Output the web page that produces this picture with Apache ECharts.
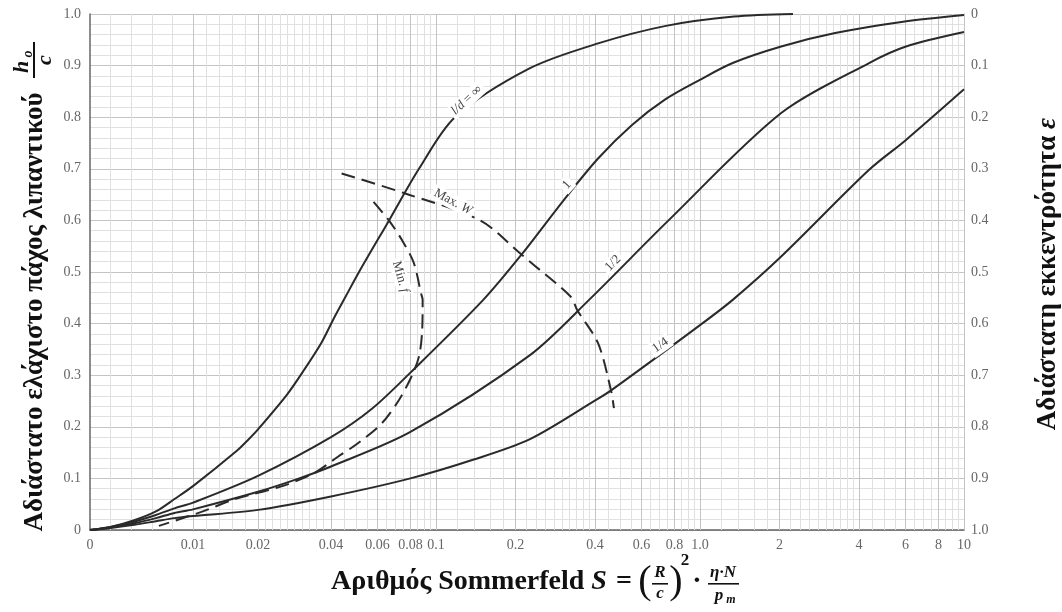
<!DOCTYPE html>
<html><head><meta charset="utf-8">
<script src="https://cdn.jsdelivr.net/npm/echarts@6/dist/echarts.min.js"></script>
<style>html,body{margin:0;padding:0;background:#fff}#c{width:1062px;height:612px}</style>
</head><body><div id="c"></div>
<script>
// ---------- axis ticks ----------
const xTickValues = [0, 0.01, 0.02, 0.04, 0.06, 0.08, 0.1, 0.2, 0.4, 0.6, 0.8, 1, 2, 4, 6, 8, 10];
const xTickLabels = ['0', '0.01', '0.02', '0.04', '0.06', '0.08', '0.1', '0.2', '0.4', '0.6', '0.8', '1.0', '2', '4', '6', '8', '10'];
const xMinorValues = [0.002, 0.004, 0.006, 0.008,
  0.012, 0.014, 0.016, 0.018,
  0.022, 0.024, 0.026, 0.028, 0.03, 0.032, 0.034, 0.036, 0.038,
  0.045, 0.05, 0.055, 0.065, 0.07, 0.075, 0.085, 0.09, 0.095,
  0.12, 0.14, 0.16, 0.18,
  0.22, 0.24, 0.26, 0.28, 0.3, 0.32, 0.34, 0.36, 0.38,
  0.45, 0.5, 0.55, 0.65, 0.7, 0.75, 0.85, 0.9, 0.95,
  1.2, 1.4, 1.6, 1.8,
  2.2, 2.4, 2.6, 2.8, 3, 3.2, 3.4, 3.6, 3.8,
  4.5, 5, 5.5, 6.5, 7, 7.5, 8.5, 9, 9.5];

// ---------- curves: Sommerfeld number S and h0/c ----------
const sInf = [0, 0.002, 0.0043, 0.0064, 0.0082, 0.01, 0.0167, 0.0185, 0.02, 0.0279, 0.0326, 0.0373, 0.041, 0.0452, 0.0511, 0.0664, 0.0862, 0.118, 0.227, 0.411, 0.743, 1.345, 2.25];
const hInf = [0, 0.006, 0.019, 0.036, 0.06, 0.085, 0.153, 0.175, 0.195, 0.262, 0.31, 0.362, 0.41, 0.45, 0.5, 0.6, 0.7, 0.8, 0.895, 0.943, 0.977, 0.995, 1.0];

const sOne = [0, 0.002, 0.0043, 0.0064, 0.0082, 0.01, 0.02, 0.04, 0.0572, 0.08, 0.151, 0.2118, 0.3053, 0.411, 0.5527, 0.7407, 0.995, 1.33, 2.03, 3.25, 5.88, 10];
const hOne = [0, 0.006, 0.016, 0.029, 0.042, 0.053, 0.105, 0.18, 0.235, 0.305, 0.446, 0.535, 0.64, 0.72, 0.785, 0.835, 0.872, 0.905, 0.937, 0.963, 0.985, 0.998];

const sHalf = [0, 0.002, 0.0043, 0.0064, 0.0082, 0.01, 0.02, 0.0313, 0.04, 0.08, 0.227, 0.38, 0.76, 2.03, 4.37, 6.03, 10];
const hHalf = [0, 0.005, 0.013, 0.023, 0.033, 0.04, 0.074, 0.1, 0.123, 0.19, 0.339, 0.446, 0.6, 0.808, 0.905, 0.937, 0.965];

const sQuarter = [0, 0.002, 0.0043, 0.0064, 0.0082, 0.01, 0.02, 0.04, 0.08, 0.138, 0.227, 0.404, 0.462, 1.0, 1.33, 2.03, 4.37, 6.03, 10];
const hQuarter = [0, 0.004, 0.01, 0.017, 0.023, 0.027, 0.039, 0.065, 0.1, 0.136, 0.176, 0.252, 0.271, 0.397, 0.446, 0.53, 0.698, 0.756, 0.854];

const sMinF = [0.058, 0.0663, 0.0743, 0.0825, 0.0877, 0.0890, 0.0885, 0.0862, 0.0807, 0.0724, 0.0624, 0.0506, 0.0425, 0.0353, 0.0262, 0.0167, 0.0115, 0.00669];
const hMinF = [0.636, 0.60, 0.562, 0.517, 0.459, 0.446, 0.381, 0.336, 0.297, 0.252, 0.207, 0.168, 0.142, 0.110, 0.084, 0.061, 0.036, 0.008];

const sMaxW = [0.0439, 0.0756, 0.1468, 0.2118, 0.227, 0.324, 0.343, 0.411, 0.46, 0.472];
const hMaxW = [0.691, 0.653, 0.60, 0.533, 0.52, 0.452, 0.426, 0.362, 0.271, 0.236];

// curve annotations (data coordinates)
const annoText = ['{i|l/d} = ∞', 'Max. {i|W}', 'Min. {i|f}', '1', '1/2', '1/4'];
const annoS = [0.1305, 0.116, 0.0734, 0.313, 0.468, 0.708];
const annoH = [0.833, 0.636, 0.491, 0.669, 0.517, 0.358];
const annoRot = [43, -28, -74, 48, 45, 35];

// ---------- x scale of the chart (linear below 0.04, logarithmic above) ----------
function sx(S) {
  if (S <= 0.01) return S / 0.01 * 103;
  if (S <= 0.02) return 103 + (S - 0.01) / 0.01 * 65;
  if (S <= 0.04) return 168 + (S - 0.02) / 0.02 * 73;
  return 346 + 264 * Math.log10(S / 0.1);
}
const X_MAX = sx(10);

const SERIF = '"Liberation Serif","DejaVu Serif",serif';
const pts = (s, h) => s.map((v, i) => [sx(v), h[i]]);
const ink = '#2a2a2a';

const chart = echarts.init(document.getElementById('c'));

const gridLines = [];
xMinorValues.forEach(v => gridLines.push({xAxis: sx(v), lineStyle: {color: '#e0e0e0', width: 1, type: 'solid'}}));
xTickValues.slice(1).forEach(v => gridLines.push({xAxis: sx(v), lineStyle: {color: '#c4c4c4', width: 1, type: 'solid'}}));

function xLabel(v) {
  for (let i = 0; i < xTickValues.length; i++) if (Math.abs(sx(xTickValues[i]) - v) < 0.01) return xTickLabels[i];
  return '';
}
const yFmt = v => (v === 0 ? '0' : v.toFixed(1));

const solid = {color: ink, width: 2};
const dashed = {color: ink, width: 2, type: [14, 7]};

chart.setOption({
  animation: false,
  backgroundColor: '#fff',
  grid: {left: 90, right: 98, top: 14, bottom: 82},
  xAxis: {
    type: 'value', min: 0, max: X_MAX,
    axisLine: {show: true, lineStyle: {color: '#666', width: 1.5}},
    axisTick: {show: false},
    splitLine: {show: false},
    axisLabel: {customValues: xTickValues.map(sx), formatter: xLabel, color: '#666', fontFamily: SERIF, fontSize: 14, margin: 8}
  },
  yAxis: [{
    type: 'value', min: 0, max: 1, interval: 0.1,
    axisLine: {show: true, lineStyle: {color: '#666', width: 1.5}},
    axisTick: {show: false},
    axisLabel: {formatter: yFmt, color: '#666', fontFamily: SERIF, fontSize: 14, margin: 9},
    splitLine: {show: true, lineStyle: {color: '#c4c4c4', width: 1}},
    minorTick: {show: false, splitNumber: 5},
    minorSplitLine: {show: true, lineStyle: {color: '#e0e0e0', width: 1}}
  }, {
    type: 'value', min: 0, max: 1, interval: 0.1, inverse: true, position: 'right',
    axisLine: {show: true, lineStyle: {color: '#999', width: 1}},
    axisTick: {show: false},
    axisLabel: {formatter: yFmt, color: '#666', fontFamily: SERIF, fontSize: 14, margin: 7},
    splitLine: {show: false}
  }],
  series: [
    {type: 'line', data: [[0, 0]], symbol: 'none', lineStyle: {opacity: 0}, silent: true, z: 1,
      markLine: {silent: true, symbol: ['none', 'none'], label: {show: false}, animation: false, data: gridLines}},
    {type: 'line', data: pts(sInf, hInf), smooth: 0.3, symbol: 'none', lineStyle: solid, z: 5},
    {type: 'line', data: pts(sOne, hOne), smooth: 0.3, symbol: 'none', lineStyle: solid, z: 5},
    {type: 'line', data: pts(sHalf, hHalf), smooth: 0.3, symbol: 'none', lineStyle: solid, z: 5},
    {type: 'line', data: pts(sQuarter, hQuarter), smooth: 0.3, symbol: 'none', lineStyle: solid, z: 5},
    {type: 'line', data: pts(sMinF, hMinF), smooth: 0.3, symbol: 'none', lineStyle: dashed, z: 5},
    {type: 'line', data: pts(sMaxW, hMaxW), smooth: 0.3, symbol: 'none', lineStyle: dashed, z: 5}
  ]
});

// annotations and titles
const graphics = [];
annoText.forEach((t, i) => {
  const p = chart.convertToPixel({seriesIndex: 1}, [sx(annoS[i]), annoH[i]]);
  graphics.push({type: 'text', x: p[0], y: p[1], rotation: annoRot[i] * Math.PI / 180, z: 100,
    style: {text: t, font: '13px ' + SERIF, fill: '#444', align: 'center', verticalAlign: 'middle',
      backgroundColor: '#fff', padding: [1, 3],
      rich: {i: {font: 'italic 13px ' + SERIF, fill: '#444'}}}});
});

const B = 'bold 27px ' + SERIF, BI = 'italic bold 27px ' + SERIF;
const BX = 'bold 28px ' + SERIF, BXI = 'italic bold 28px ' + SERIF;
const small = 'italic bold 17px ' + SERIF;
// left title (rotated)
graphics.push({type: 'group', x: 42, y: 285, rotation: Math.PI / 2, z: 100, children: [
  {type: 'text', x: -27, y: -7, style: {text: 'Αδιάστατο ελάχιστο πάχος λιπαντικού', font: B, fill: '#111', align: 'center', verticalAlign: 'middle'}},
  {type: 'text', x: 218, y: -20, style: {text: 'h', font: 'italic bold 22px ' + SERIF, fill: '#111', align: 'center', verticalAlign: 'middle'}},
  {type: 'text', x: 231, y: -14, style: {text: 'o', font: 'italic bold 14px ' + SERIF, fill: '#111', align: 'center', verticalAlign: 'middle'}},
  {type: 'rect', shape: {x: 207, y: -9, width: 36, height: 2}, style: {fill: '#111'}},
  {type: 'text', x: 225, y: 3, style: {text: 'c', font: 'italic bold 22px ' + SERIF, fill: '#111', align: 'center', verticalAlign: 'middle'}}
]});
// right title
graphics.push({type: 'text', x: 1048, y: 274, rotation: Math.PI / 2, z: 100,
  style: {text: 'Αδιάστατη εκκεντρότητα {i|ε}', font: B, fill: '#111', align: 'center', verticalAlign: 'middle', rich: {i: {font: BI, fill: '#111'}}}});
// x title
const xt = [
  {t: 'Αριθμός Sommerfeld', x: 331, y: 582, f: BX, a: 'left'},
  {t: 'S', x: 599, y: 582, f: BXI},
  {t: '=', x: 624, y: 582, f: BX},
  {t: '(', x: 645, y: 582, f: '40px ' + SERIF},
  {t: 'R', x: 660, y: 573, f: small},
  {t: 'c', x: 660, y: 594, f: small},
  {t: ')', x: 676, y: 582, f: '40px ' + SERIF},
  {t: '2', x: 685, y: 561, f: 'bold 17px ' + SERIF},
  {t: '·', x: 697, y: 582, f: BX},
  {t: 'η·N', x: 723, y: 573, f: small},
  {t: 'p', x: 719, y: 596, f: small},
  {t: 'm', x: 731, y: 600, f: 'italic bold 12px ' + SERIF}
];
xt.forEach(e => graphics.push({type: 'text', x: e.x, y: e.y, z: 100,
  style: {text: e.t, font: e.f, fill: '#111', align: e.a || 'center', verticalAlign: 'middle'}}));
graphics.push({type: 'rect', z: 100, shape: {x: 652, y: 583, width: 16, height: 1.6}, style: {fill: '#111'}});
graphics.push({type: 'rect', z: 100, shape: {x: 708, y: 583, width: 31, height: 1.6}, style: {fill: '#111'}});

chart.setOption({graphic: graphics});
</script>
</body></html>
